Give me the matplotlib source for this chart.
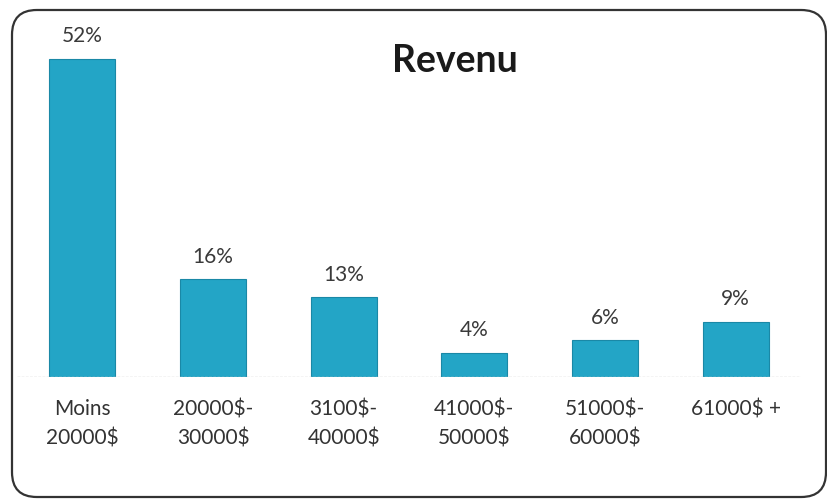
import numpy as np
import matplotlib.pyplot as plt
from matplotlib.patches import FancyBboxPatch

plt.rcParams['font.family'] = ['Lato', 'DejaVu Sans']

# Data
categories = ['Moins\n20000$', '20000$-\n30000$', '3100$-\n40000$',
              '41000$-\n50000$', '51000$-\n60000$', '61000$ +']
values = [52, 16, 13, 4, 6, 9]
value_labels = ['52%', '16%', '13%', '4%', '6%', '9%']

fig = plt.figure(figsize=(8.27, 4.99), dpi=100)

# rounded frame around the chart
frame = FancyBboxPatch((12 / 827, 1 - 497 / 499), (826 - 12) / 827, (497 - 10) / 499,
                       boxstyle='round,pad=0,rounding_size=0.03',
                       transform=fig.transFigure, facecolor='none',
                       edgecolor='#333333', linewidth=1.6, mutation_aspect=827 / 499)
fig.patches.append(frame)

ax = fig.add_axes([17 / 827, 1 - 377 / 499, 784 / 827, 367 / 499])
ax.set_facecolor('none')

x = np.arange(len(categories))
bars = ax.bar(x, values, width=0.505, color='#23a5c6', edgecolor='#1a88a6', linewidth=0.8)

for b, lab in zip(bars, value_labels):
    ax.annotate(lab, (b.get_x() + b.get_width() / 2, b.get_height()),
                xytext=(0, 9), textcoords='offset points', ha='center', va='bottom',
                fontsize=15, color='#3a3a3a')

ax.axhline(0, color='#c8c8c8', linewidth=1.0, linestyle=(0, (2, 1)))

ax.set_xlim(-0.5, len(categories) - 0.5)
ax.set_ylim(0, 60)
ax.set_xticks(x)
ax.set_xticklabels(categories, fontsize=15, color='#333333', linespacing=1.6, va='top')
ax.tick_params(axis='x', length=0, pad=16)
ax.set_yticks([])
for s in ax.spines.values():
    s.set_visible(False)

fig.text(455 / 827, 1 - 61 / 499, 'Revenu', ha='center', va='center',
         fontsize=27, fontweight='bold', color='#1a1a1a')

fig.savefig('out.png', dpi=100)
